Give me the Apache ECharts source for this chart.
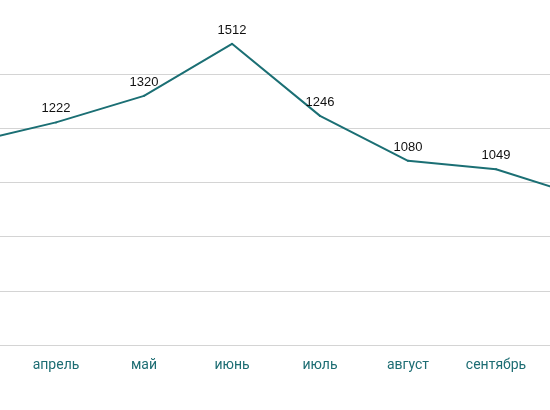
<!DOCTYPE html>
<html>
<head>
<meta charset="utf-8">
<script src="https://cdn.jsdelivr.net/npm/echarts@6/dist/echarts.min.js"></script>
<style>
  html, body { margin: 0; padding: 0; background: #fff; overflow: hidden; width: 550px; height: 410px; }
  /* chart is wider than the window: март and октябрь fall outside the frame */
  #chart { width: 704px; height: 410px; margin-left: -76px; }
</style>
</head>
<body>
<div id="chart"></div>
<script>
// months (март and октябрь sit just outside the visible area)
const months = ['март', 'апрель', 'май', 'июнь', 'июль', 'август', 'сентябрь', 'октябрь']
const values = [1145, 1222, 1320, 1512, 1246, 1080, 1049, 946]
// which points get a value label
const labelled = [false, true, true, true, true, true, true, false]

const yMin = 400
const yMax = 1600
const yStep = 200

let myChart = echarts.init(document.getElementById('chart'))

myChart.setOption({
  animation: false,
  grid: { left: 0, right: 0, top: 20, bottom: 65 },
  xAxis: {
    type: 'category',
    data: months,
    boundaryGap: true,
    axisLine: { show: true, lineStyle: { color: '#d4d4d4', width: 1 } },
    axisTick: { show: false },
    axisLabel: {
      color: '#1d6d73',
      fontFamily: 'Roboto',
      fontSize: 14,
      margin: 13,
      interval: 0
    }
  },
  yAxis: {
    type: 'value',
    min: yMin,
    max: yMax,
    interval: yStep,
    axisLabel: { show: false },
    axisLine: { show: false },
    axisTick: { show: false },
    splitLine: { show: true, showMaxLine: false, lineStyle: { color: '#d4d4d4', width: 1 } }
  },
  series: [{
    type: 'line',
    data: values.map((v, i) => ({
      value: v,
      label: { show: labelled[i] }
    })),
    symbol: 'circle',
    symbolSize: 2,
    showAllSymbol: true,
    itemStyle: { color: '#1b6f74' },
    lineStyle: { color: '#1b6f74', width: 2 },
    label: {
      show: false,
      position: 'top',
      distance: 6,
      color: '#111',
      fontFamily: 'Liberation Sans',
      fontSize: 13
    }
  }]
})
</script>
</body>
</html>
